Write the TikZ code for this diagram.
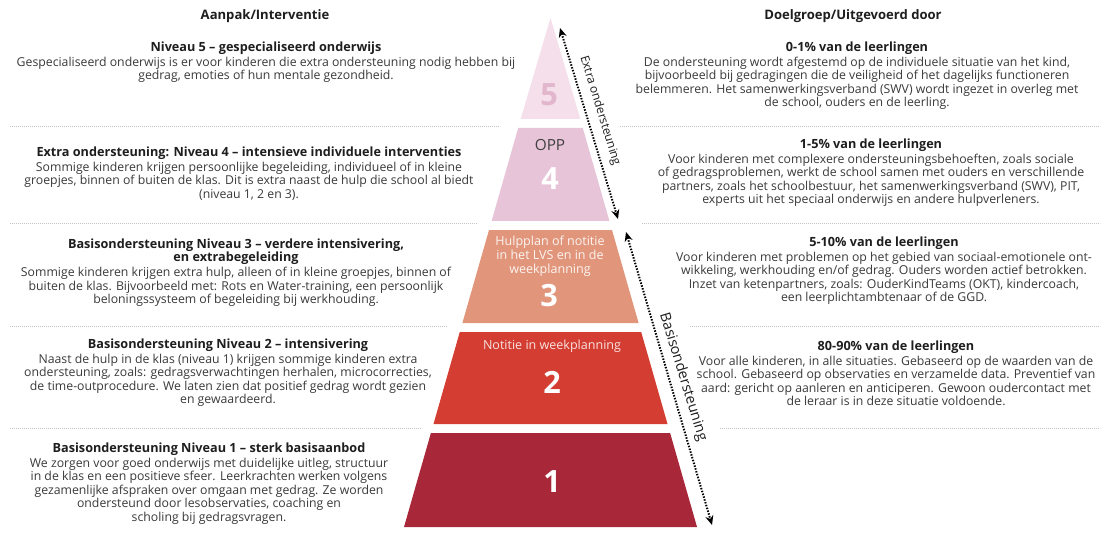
\documentclass[tikz,border=0pt]{standalone}
\usepackage{fontspec}
\setmainfont{Open Sans}
\usetikzlibrary{arrows.meta}
\definecolor{tfive}{HTML}{F4DFEA}
\definecolor{tfivetxt}{HTML}{E2B6CD}
\definecolor{tfour}{HTML}{E8C4D8}
\definecolor{tthree}{HTML}{E1967C}
\definecolor{ttwo}{HTML}{D43D31}
\definecolor{tone}{HTML}{A82839}
\definecolor{bodytxt}{HTML}{3A3A3A}
\definecolor{headtxt}{HTML}{1E1E1E}
\definecolor{seprule}{HTML}{C4C4C4}
\newcommand{\hd}{\bfseries\color{headtxt}\fontsize{9.5}{10.5}\selectfont}
\begin{document}
\begin{tikzpicture}[x=0.75pt,y=-0.75pt,
  block/.style={anchor=north,align=center,inner sep=0pt,text=bodytxt,
    font=\fontsize{9.2}{10.1}\selectfont},
  title/.style={inner sep=0pt,text=headtxt,font=\bfseries\fontsize{9.8}{11}\selectfont},
  sepline/.style={draw=seprule,line width=0.6pt,dash pattern=on 0.6pt off 0.9pt},
  digit/.style={inner sep=0pt,text=white,font=\bfseries\fontsize{23}{25}\selectfont},
  tiertxt/.style={inner sep=0pt,align=center,font=\fontsize{9.4}{10.3}\selectfont},
  darr/.style={line width=1.5pt,dash pattern=on 1.1pt off 1.1pt,
    {Stealth[length=7pt,width=6pt]}-{Stealth[length=7pt,width=6pt]}},
  arrlabel/.style={inner sep=0pt,text=headtxt,rotate=-73}]
\useasboundingbox[fill=white] (0,0) rectangle (1105,538);

% column titles
\node[title] (hl) at (265,16) {Aanpak/Interventie};
\node[title] (hr) at (853,16) {Doelgroep/Uitgevoerd door};

% separators
\draw[sepline] (10,126) -- (500,126);
\draw[sepline] (10,223) -- (478,223);
\draw[sepline] (10,326) -- (447,326);
\draw[sepline] (10,428) -- (422,428);
\draw[sepline] (620,126) -- (1100,126);
\draw[sepline] (642,223) -- (1100,223);
\draw[sepline] (690,326) -- (1100,326);
\draw[sepline] (720,428) -- (1100,428);

% pyramid tiers
\fill[tfive] (550.5,18) -- (580.3,119) -- (520.7,119) -- cycle;
\fill[tfour] (518.2,128) -- (582.8,128) -- (609.4,221) -- (491.6,221) -- cycle;
\fill[tthree] (489.0,230) -- (612.0,230) -- (638.6,323) -- (462.4,323) -- cycle;
\fill[ttwo] (459.8,332) -- (641.2,332) -- (667.5,424) -- (433.5,424) -- cycle;
\fill[tone] (430.9,433) -- (670.1,433) -- (697.0,527) -- (404.0,527) -- cycle;

\node[digit,text=tfivetxt] (d5) at (549,95) {5};
\node[tiertxt,text=headtxt!85,font=\fontsize{11.5}{12}\selectfont] (opp) at (550,145) {OPP};
\node[digit] (d4) at (550,179) {4};
\node[tiertxt,text=white!88!tthree] (t3) at (550,256) {Hulpplan of notitie\\in het LVS en in de\\weekplanning};
\node[digit] (d3) at (549,296) {3};
\node[tiertxt,text=white!85!ttwo] (t2) at (552,346) {Notitie in weekplanning};
\node[digit] (d2) at (552,382) {2};
\node[digit] (d1) at (552,482) {1};

% arrows
\coordinate (a1s) at (560,28);
\coordinate (a1e) at (618,219);
\coordinate (a2s) at (626,232);
\coordinate (a2e) at (712,525);
\draw[darr] (a1s) -- (a1e);
\draw[darr] (a2s) -- (a2e);
\node[arrlabel,font=\fontsize{9}{10}\selectfont] (l1) at (600,111) {Extra ondersteuning};
\node[arrlabel,font=\fontsize{10.8}{12}\selectfont] (l2) at (683,377) {Basisondersteuning};

% left blocks
\node[block] (b5) at (266,41.5) {{\hd Niveau 5 – gespecialiseerd onderwijs}\\[1pt]
Gespecialiseerd onderwijs is er voor kinderen die extra ondersteuning nodig hebben bij\\
gedrag, emoties of hun mentale gezondheid.};
\node[block] (b4) at (249,146.5) {{\hd Extra ondersteuning: Niveau 4 – intensieve individuele interventies}\\[1pt]
Sommige kinderen krijgen persoonlijke begeleiding, individueel of in kleine\\
groepjes, binnen of buiten de klas. Dit is extra naast de hulp die school al biedt\\
(niveau 1, 2 en 3).};
\node[block] (b3) at (236,238.5) {{\hd Basisondersteuning Niveau 3 – verdere intensivering,}\\
{\hd en extrabegeleiding}\\[1pt]
Sommige kinderen krijgen extra hulp, alleen of in kleine groepjes, binnen of\\
buiten de klas. Bijvoorbeeld met: Rots en Water-training, een persoonlijk\\
beloningssysteem of begeleiding bij werkhouding.};
\node[block] (b2) at (228,338.5) {{\hd Basisondersteuning Niveau 2 – intensivering}\\[1pt]
Naast de hulp in de klas (niveau 1) krijgen sommige kinderen extra\\
ondersteuning, zoals: gedragsverwachtingen herhalen, microcorrecties,\\
de time-outprocedure. We laten zien dat positief gedrag wordt gezien\\
en gewaardeerd.};
\node[block] (b1) at (209,442.5) {{\hd Basisondersteuning Niveau 1 – sterk basisaanbod}\\[1pt]
We zorgen voor goed onderwijs met duidelijke uitleg, structuur\\
in de klas en een positieve sfeer. Leerkrachten werken volgens\\
gezamenlijke afspraken over omgaan met gedrag. Ze worden\\
ondersteund door lesobservaties, coaching en\\
scholing bij gedragsvragen.};

% right blocks
\node[block] (r5) at (857,41.5) {{\hd 0-1\% van de leerlingen}\\[1pt]
De ondersteuning wordt afgestemd op de individuele situatie van het kind,\\
bijvoorbeeld bij gedragingen die de veiligheid of het dagelijks functioneren\\
belemmeren. Het samenwerkingsverband (SWV) wordt ingezet in overleg met\\
de school, ouders en de leerling.};
\node[block] (r4) at (871,138.5) {{\hd 1-5\% van de leerlingen}\\[1pt]
Voor kinderen met complexere ondersteuningsbehoeften, zoals sociale\\
of gedragsproblemen, werkt de school samen met ouders en verschillende\\
partners, zoals het schoolbestuur, het samenwerkingsverband (SWV), PIT,\\
experts uit het speciaal onderwijs en andere hulpverleners.};
\node[block] (r3) at (884,236.5) {{\hd 5-10\% van de leerlingen}\\[1pt]
Voor kinderen met problemen op het gebied van sociaal-emotionele ont-\\
wikkeling, werkhouding en/of gedrag. Ouders worden actief betrokken.\\
Inzet van ketenpartners, zoals: OuderKindTeams (OKT), kindercoach,\\
een leerplichtambtenaar of de GGD.};
\node[block] (r2) at (896,340.5) {{\hd 80-90\% van de leerlingen}\\[1pt]
Voor alle kinderen, in alle situaties. Gebaseerd op de waarden van de\\
school. Gebaseerd op observaties en verzamelde data. Preventief van\\
aard: gericht op aanleren en anticiperen. Gewoon oudercontact met\\
de leraar is in deze situatie voldoende.};
\end{tikzpicture}
\end{document}
